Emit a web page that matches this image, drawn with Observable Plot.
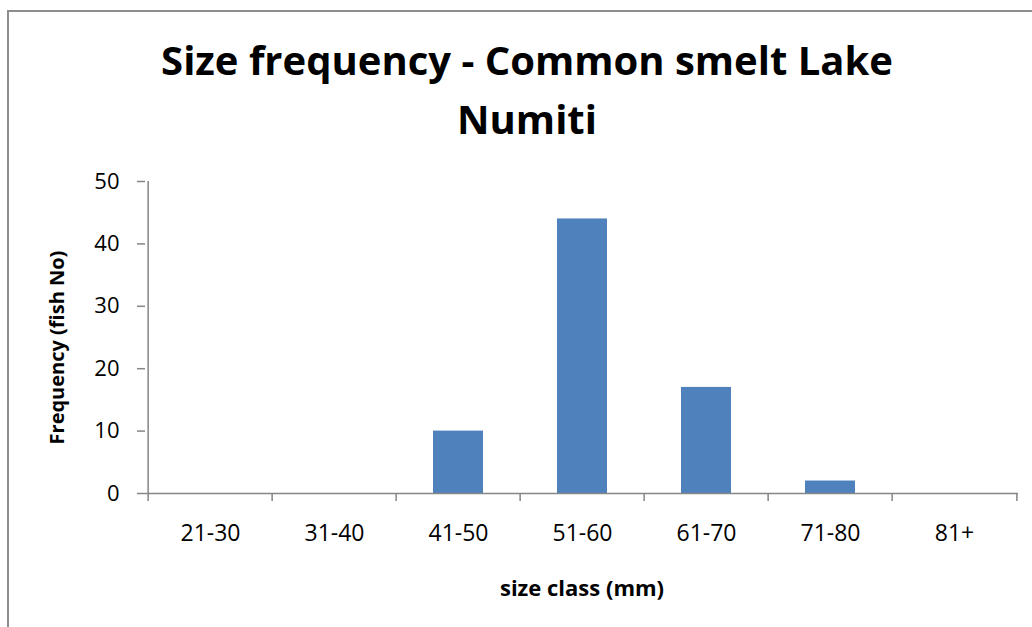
<!DOCTYPE html>
<html>
<head>
<meta charset="utf-8">
<script src="https://cdn.jsdelivr.net/npm/d3@7"></script>
<script src="https://cdn.jsdelivr.net/npm/@observablehq/plot@0.6"></script>
<style>
  html, body { margin: 0; padding: 0; background: #fff; overflow: hidden; }
  #wrap { position: relative; width: 1032px; height: 627px; font-family: "Open Sans", sans-serif; }
  #frame { position: absolute; left: 7px; top: 10px; width: 1040px; height: 640px; border-left: 2px solid #8e8e8e; border-top: 2px solid #8e8e8e; box-sizing: border-box; }
  #title { position: absolute; left: 0; width: 1054px; top: 30px; text-align: center; font-weight: 700; font-size: 40px; line-height: 59px; color: #000; }
  #chart { position: absolute; left: 0; top: 0; }
</style>
</head>
<body>
<div id="wrap">
  <div id="frame"></div>
  <div id="title">Size frequency - Common smelt Lake<br>Numiti</div>
  <div id="chart"></div>
</div>
<script>
const categories = ["21-30", "31-40", "41-50", "51-60", "61-70", "71-80", "81+"];
const frequency = [0, 0, 10, 44, 17, 2, 0];
const yTicks = [0, 10, 20, 30, 40, 50];
const xLabel = "size class (mm)";
const yLabel = "Frequency (fish No)";

const data = categories.map((c, i) => ({cls: c, n: frequency[i]}));
const W = 1032, H = 627;
const mL = 145, mR = 14, mT = 181, mB = 134;
const step = (W - mL - mR) / categories.length;
const axisColor = "#868686";

const plot = Plot.plot({
  width: W, height: H,
  marginLeft: mL, marginRight: mR, marginTop: mT, marginBottom: mB,
  style: {fontFamily: "Open Sans, sans-serif", fontSize: "18px", color: "#000", background: "transparent"},
  x: {domain: categories, paddingInner: 0.6, paddingOuter: 0.3, label: null},
  y: {domain: [0, 50], label: null},
  marks: [
    Plot.barY(data, {x: "cls", y: "n", fill: "#4F81BD"}),
    Plot.ruleY([0], {stroke: axisColor, strokeWidth: 1.5}),
    Plot.ruleX([0], {x: () => categories[0], dx: -step / 2, y1: 0, y2: 50, stroke: axisColor, strokeWidth: 1.5}),
    Plot.axisY(yTicks, {tickSize: 8, tickPadding: 18, stroke: axisColor, strokeWidth: 1.5, fill: "#000", fontSize: 22}),
    Plot.axisX({tickSize: 0, tickPadding: 31, fontSize: 23, fill: "#000"}),
    Plot.axisX(categories, {tickSize: 8, dx: -step / 2, tickFormat: () => "", stroke: axisColor, strokeWidth: 1.5}),
    Plot.axisX([categories[categories.length - 1]], {tickSize: 8, dx: step / 2, tickFormat: () => "", stroke: axisColor, strokeWidth: 1.5}),
    Plot.text([xLabel], {frameAnchor: "bottom", dy: 102, fontWeight: "bold", fontSize: 22, fill: "#000", text: d => d}),
    Plot.text([yLabel], {frameAnchor: "left", textAnchor: "middle", dx: -88, dy: 10, rotate: -90, fontWeight: "bold", fontSize: 20, fill: "#000", text: d => d})
  ]
});
document.getElementById("chart").appendChild(plot);
</script>
</body>
</html>
